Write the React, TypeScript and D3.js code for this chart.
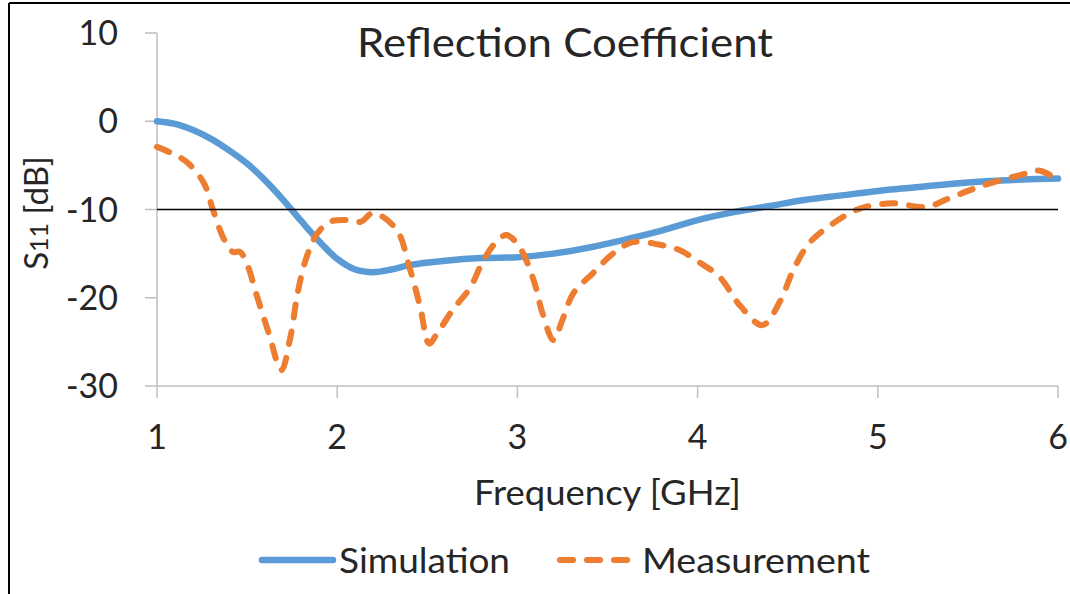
import React from "react";
import * as d3 from "d3";

const simFreq = [1.0, 1.1, 1.2, 1.3, 1.4, 1.5, 1.6, 1.7, 1.8, 1.9, 2.0, 2.1, 2.2, 2.3, 2.4, 2.6, 2.8, 3.0, 3.2, 3.4, 3.6, 3.8, 4.0, 4.2, 4.4, 4.6, 4.8, 5.0, 5.2, 5.4, 5.6, 5.8, 6.0];
const simDb = [0, -0.3, -1.0, -2.0, -3.3, -4.8, -6.7, -8.9, -11.3, -13.6, -15.6, -16.8, -17.1, -16.8, -16.3, -15.8, -15.5, -15.4, -15.0, -14.3, -13.4, -12.4, -11.2, -10.3, -9.6, -8.9, -8.4, -7.9, -7.5, -7.1, -6.8, -6.6, -6.5];

const measFreq = [1.0, 1.08, 1.17, 1.26, 1.31, 1.37, 1.42, 1.46, 1.5, 1.55, 1.62, 1.69, 1.74, 1.78, 1.83, 1.89, 1.96, 2.05, 2.13, 2.2, 2.33, 2.4, 2.46, 2.51, 2.55, 2.64, 2.74, 2.81, 2.89, 2.94, 3.01, 3.09, 3.14, 3.2, 3.25, 3.31, 3.42, 3.53, 3.64, 3.79, 3.9, 4.01, 4.12, 4.24, 4.36, 4.46, 4.53, 4.62, 4.75, 4.9, 5.08, 5.27, 5.4, 5.58, 5.79, 5.9, 6.0];
const measDb = [-2.9, -3.6, -4.7, -7.0, -10.0, -13.3, -14.8, -14.8, -16.2, -19.5, -24.0, -28.2, -24.5, -19.5, -15.4, -12.7, -11.4, -11.2, -11.4, -10.4, -12.3, -16.5, -21.0, -25.2, -24.2, -21.4, -18.8, -15.8, -13.5, -12.9, -14.2, -18.0, -21.8, -24.8, -22.5, -19.5, -17.2, -15.0, -13.7, -14.0, -14.6, -16.0, -17.6, -21.0, -23.1, -20.3, -16.9, -13.8, -11.6, -9.9, -9.3, -9.7, -8.7, -7.3, -6.1, -5.6, -6.7];

const xTicks = [1, 2, 3, 4, 5, 6];
const yTicks = [10, 0, -10, -20, -30];
const thresholdDb = -10;
const seriesNames = ["Simulation", "Measurement"];
const titleText = "Reflection Coefficient";
const xLabel = "Frequency [GHz]";

const BLUE = "#5B9BD5";
const ORANGE = "#ED7D31";
const AXIS = "#BFBFBF";
const TEXT = "#262626";
const FONT = "Lato, 'Open Sans', sans-serif";

export default function App() {
  const x = d3.scaleLinear().domain([1, 6]).range([157, 1058]);
  const y = d3.scaleLinear().domain([-30, 10]).range([386, 33]);

  const line = d3
    .line<[number, number]>()
    .x((d) => x(d[0]))
    .y((d) => y(d[1]))
    .curve(d3.curveCatmullRom.alpha(0.5));

  const simPts: [number, number][] = simFreq.map((f, i) => [f, simDb[i]]);
  const measPts: [number, number][] = measFreq.map((f, i) => [f, measDb[i]]);

  const [x0, x1] = x.range();
  const [yBottom, yTop] = y.range();

  return (
    <svg
      width={1070}
      height={594}
      style={{ position: "absolute", left: 0, top: 0, background: "#fff" }}
      fontFamily={FONT}
    >
      <rect x={0} y={0} width={1070} height={594} fill="#fff" />
      {/* frame */}
      <line x1={9} y1={3} x2={1070} y2={3} stroke="#000" strokeWidth={2} />
      <line x1={9} y1={3} x2={9} y2={594} stroke="#000" strokeWidth={2} />

      {/* title */}
      <text x={357} y={57} fontSize={40} fill={TEXT} textLength={416} lengthAdjust="spacingAndGlyphs">
        {titleText}
      </text>

      {/* y axis */}
      <line x1={x0} y1={yTop} x2={x0} y2={yBottom} stroke={AXIS} strokeWidth={1.5} />
      {yTicks.map((t) => (
        <g key={"y" + t}>
          <line x1={x0 - 12} y1={y(t)} x2={x0} y2={y(t)} stroke={AXIS} strokeWidth={1.5} />
          <text x={118} y={y(t)} dy="0.36em" textAnchor="end" fontSize={34} fill={TEXT}>
            {t}
          </text>
        </g>
      ))}

      {/* x axis */}
      <line x1={x0} y1={yBottom} x2={x1} y2={yBottom} stroke={AXIS} strokeWidth={1.5} />
      {xTicks.map((t) => (
        <g key={"x" + t}>
          <line x1={x(t)} y1={yBottom} x2={x(t)} y2={yBottom + 12} stroke={AXIS} strokeWidth={1.5} />
          <text x={x(t)} y={437} dy="0.36em" textAnchor="middle" fontSize={34} fill={TEXT}>
            {t}
          </text>
        </g>
      ))}

      {/* axis titles */}
      <text x={474} y={505} fontSize={34} fill={TEXT} textLength={267} lengthAdjust="spacingAndGlyphs">
        {xLabel}
      </text>
      <text
        transform="translate(48,213) rotate(-90)"
        textAnchor="middle"
        fontSize={33}
        fill={TEXT}
      >
        S<tspan fontSize={25}>11</tspan> [dB]
      </text>

      {/* series */}
      <path d={line(simPts) || ""} fill="none" stroke={BLUE} strokeWidth={6.5} strokeLinecap="round" />
      <path
        d={line(measPts) || ""}
        fill="none"
        stroke={ORANGE}
        strokeWidth={6}
        strokeLinecap="round"
        strokeDasharray="13 14"
      />
      {/* threshold */}
      <line x1={x0} y1={y(thresholdDb)} x2={x1} y2={y(thresholdDb)} stroke="#000" strokeWidth={1.5} />

      {/* legend */}
      <line x1={262} y1={560} x2={333} y2={560} stroke={BLUE} strokeWidth={6.5} strokeLinecap="round" />
      <text x={339} y={560} dy="0.36em" fontSize={35} fill={TEXT} textLength={171} lengthAdjust="spacingAndGlyphs">
        {seriesNames[0]}
      </text>
      <line
        x1={560}
        y1={560}
        x2={634}
        y2={560}
        stroke={ORANGE}
        strokeWidth={6}
        strokeLinecap="round"
        strokeDasharray="13 14"
      />
      <text x={642} y={560} dy="0.36em" fontSize={35} fill={TEXT} textLength={228} lengthAdjust="spacingAndGlyphs">
        {seriesNames[1]}
      </text>
    </svg>
  );
}
